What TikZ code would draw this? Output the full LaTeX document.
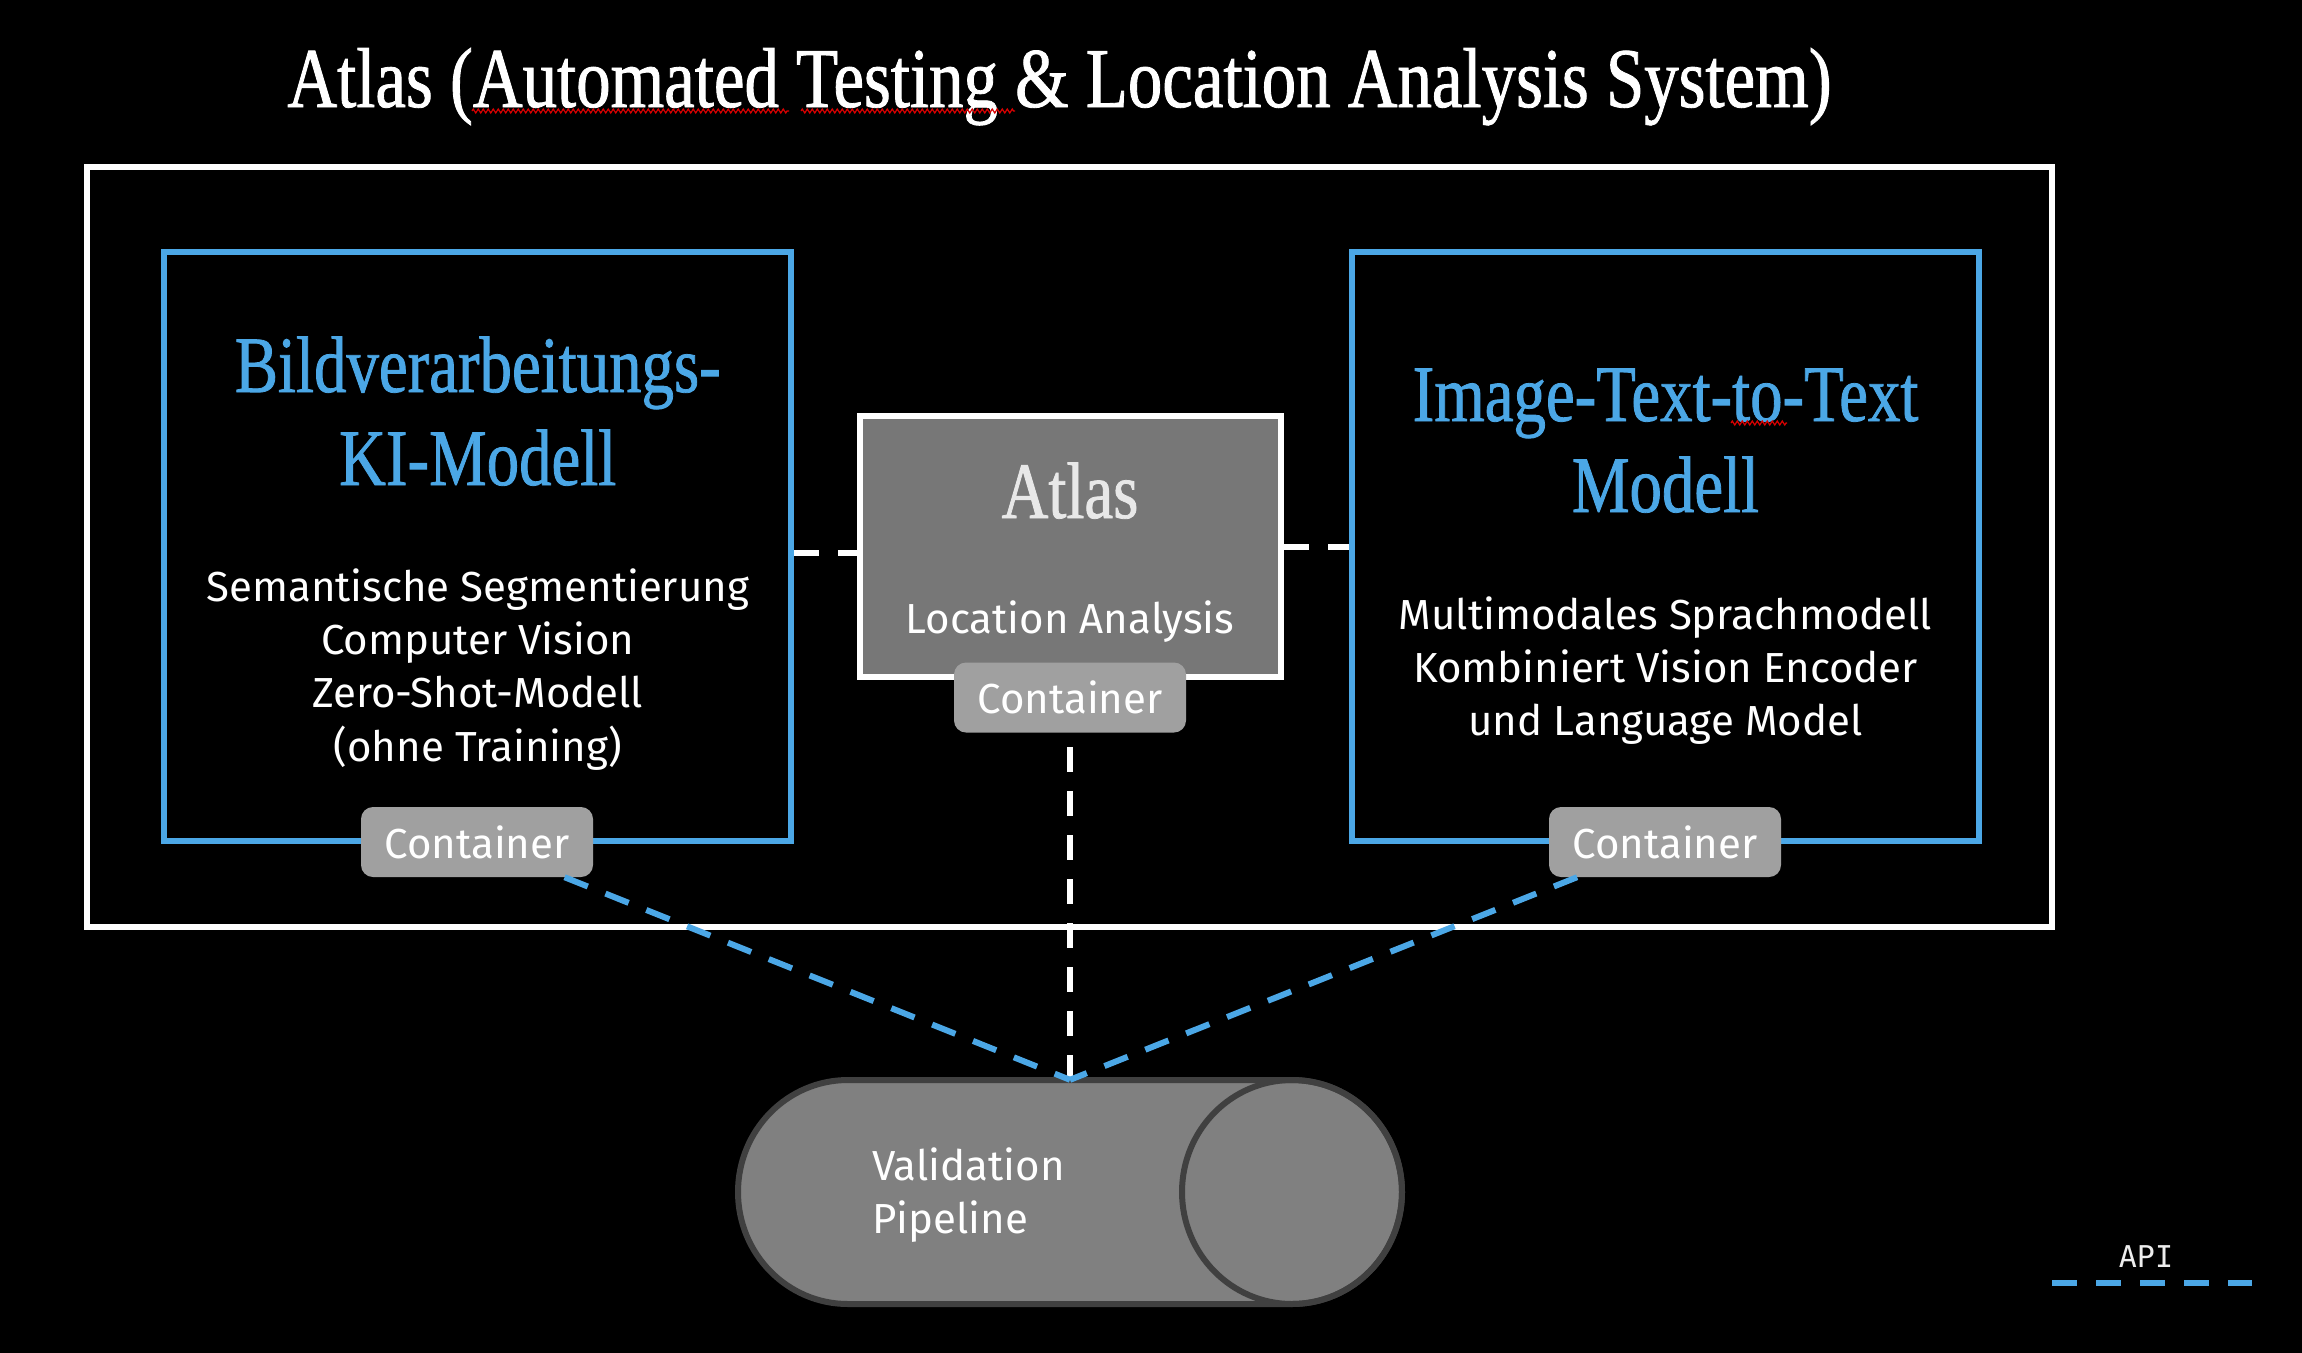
\documentclass[tikz,border=0pt]{standalone}
\usepackage{fontspec}
\setmainfont{Fira Sans}
\newfontfamily\condserif{Liberation Serif}[FakeStretch=0.81,FakeBold=1]
\newfontfamily\monof{DejaVu Sans Mono}
\usetikzlibrary{decorations.pathmorphing}
\definecolor{mbblue}{HTML}{4BA7E6}
\definecolor{boxgray}{HTML}{777777}
\definecolor{contgray}{HTML}{A0A0A0}
\definecolor{pipegray}{HTML}{808080}
\definecolor{pipeedge}{HTML}{404040}
\definecolor{atlasgray}{HTML}{E8E8E8}
\newcommand\mybodyfont{\fontsize{42}{53}\selectfont}
\tikzset{
 frame/.style={draw=white, line width=6pt, minimum width=1965pt, minimum height=760pt, inner sep=0pt},
 modelbox/.style={draw=mbblue, line width=6pt, minimum width=627pt, minimum height=589pt, inner sep=0pt},
 atlasbox/.style={draw=white, fill=boxgray, line width=6pt, minimum width=421pt, minimum height=261pt, inner sep=0pt},
 cont/.style={fill=contgray, rounded corners=12pt, minimum width=232pt, minimum height=70pt, inner sep=0pt, text=white, font=\mybodyfont},
 bigtitle/.style={font=\condserif\fontsize{85}{100}\selectfont, text=white, anchor=base, inner sep=0pt},
 modeltitle/.style={font=\condserif\fontsize{80}{92}\selectfont, text=mbblue, anchor=base, inner sep=0pt},
 bodytext/.style={font=\mybodyfont, text=white, anchor=base, inner sep=0pt},
 wdash/.style={draw=white, line width=6pt, dash pattern=on 25pt off 19pt},
 bdash/.style={draw=mbblue, line width=6pt, dash pattern=on 25pt off 19pt},
 squiggle/.style={draw=red!85!black, line width=1.2pt, decorate, decoration={zigzag, amplitude=2pt, segment length=5pt}},
}
\begin{document}
\begin{tikzpicture}[x=1pt,y=-1pt]
\useasboundingbox (0,0) rectangle (2302,1352);
\fill[black] (-10,-10) rectangle (2312,1362);

\node[bigtitle] (title) at (1059.5,107) {Atlas (Automated Testing \& Location Analysis System)};
\draw[squiggle] (472,111) -- (789,111);
\draw[squiggle] (801,111) -- (1015,111);

\node[frame] (outer) at (1069.5,547) {};
\node[modelbox] (lbox) at (477.75,546.5) {};
\node[modelbox] (rbox) at (1665.5,546.5) {};
\node[atlasbox] (cbox) at (1070.5,546.5) {};

\node[cont] (lcont) at (477,842) {Container};
\node[cont] (ccont) at (1070,697.5) {Container};
\node[cont] (rcont) at (1665,842) {Container};

\node[modeltitle] (lt1) at (477.75,392) {Bildverarbeitungs-};
\node[modeltitle] (lt2) at (477.75,485) {KI-Modell};
\foreach \t [count=\i] in {Semantische Segmentierung, Computer Vision, Zero-Shot-Modell, (ohne Training)}
  \node[bodytext] (lb\i) at (477.75,{601+53.33*(\i-1)}) {\t};

\node[modeltitle] (rt1) at (1665.5,421) {Image-Text-to-Text};
\node[modeltitle] (rt2) at (1665.5,512) {Modell};
\draw[squiggle] (1731,423) -- (1787,423);
\foreach \t [count=\i] in {Multimodales Sprachmodell, Kombiniert Vision Encoder, und Language Model}
  \node[bodytext] (rb\i) at (1665.5,{629+53*(\i-1)}) {\t};

\node[modeltitle, text=atlasgray] (atl) at (1070,518) {Atlas};
\node[bodytext] (loc) at (1070,633) {Location Analysis};

\node[minimum width=664pt, minimum height=224pt, inner sep=0pt] (pipe) at (1070,1192) {};
\filldraw[fill=pipegray, draw=pipeedge, line width=6pt] (848,1080) arc[start angle=270, end angle=90, x radius=110, y radius=112] -- (1292,1304) arc[start angle=90, end angle=-90, x radius=110, y radius=112] -- cycle;
\draw[pipeedge, line width=6pt] (1292,1192) ellipse [x radius=110, y radius=112];
\node[bodytext, anchor=base west] (val) at (872,1180) {Validation};
\node[bodytext, anchor=base west] (pip) at (872,1233) {Pipeline};

\draw[wdash] ([yshift=-6pt]lbox.east) -- ([yshift=-6pt]cbox.west);
\draw[wdash] (cbox.east) -- (rbox.west);
\draw[wdash] (pipe.north) -- (ccont.south);
\draw[bdash] (lcont) -- (pipe.north);
\draw[bdash] (rcont) -- (pipe.north);

\node[font=\monof\fontsize{30}{36}\selectfont, text=white!93!black, inner sep=0pt] (api) at (2146,1257) {API};
\coordinate (legA) at (2052,1283);
\coordinate (legB) at (2252,1283);
\draw[bdash] (legA) -- (legB);
\end{tikzpicture}
\end{document}
